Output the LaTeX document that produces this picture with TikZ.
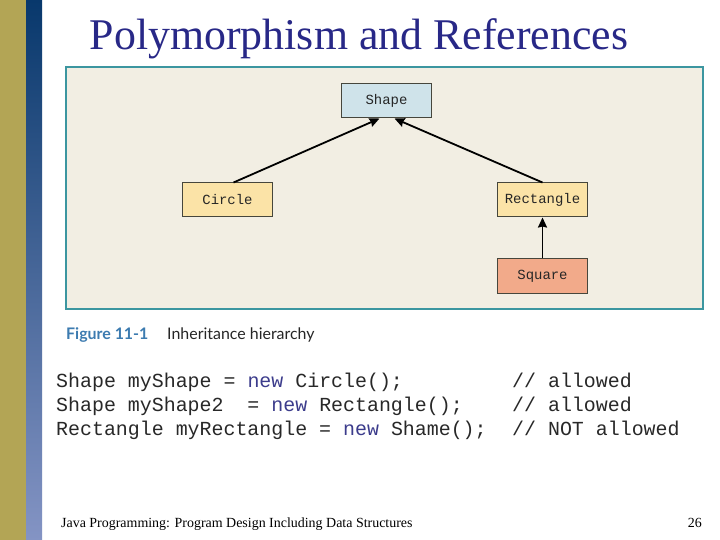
\documentclass[tikz,border=0pt]{standalone}
\usepackage{fontspec}
\setmainfont{Liberation Serif}
\newfontfamily\codefont{Liberation Mono}
\newfontfamily\capfont{Lato}
\usetikzlibrary{arrows.meta}
\definecolor{gold}{RGB}{179,165,85}
\definecolor{navytop}{RGB}{8,56,108}
\definecolor{navybot}{RGB}{132,148,196}
\definecolor{titleblue}{RGB}{40,40,135}
\definecolor{panelfill}{RGB}{242,238,227}
\definecolor{panelline}{RGB}{60,150,160}
\definecolor{shapefill}{RGB}{207,227,234}
\definecolor{classfill}{RGB}{251,227,167}
\definecolor{squarefill}{RGB}{242,170,138}
\definecolor{boxline}{RGB}{70,70,60}
\definecolor{capblue}{RGB}{60,123,176}
\definecolor{kwcolor}{RGB}{60,60,140}
\definecolor{codegray}{RGB}{40,40,40}
\tikzset{
  classbox/.style={draw=boxline, line width=1bp, minimum width=90bp, minimum height=34bp,
    inner sep=0pt, font=\codefont\fontsize{14}{15}\selectfont, text=black!85},
  inherit/.style={line width=1.8bp, draw=black, -{Stealth[length=10bp,width=9bp,inset=1bp]}},
  codeline/.style={anchor=base west, inner sep=0pt, font=\codefont\fontsize{20}{24}\selectfont, text=codegray},
}
\begin{document}
\begin{tikzpicture}[x=1bp,y=-1bp]
\useasboundingbox (0,0) rectangle (720,540);
\fill[white] (0,0) rectangle (720,540);
% side bars
\fill[gold] (0,0) rectangle (26,540);
\shade[top color=navytop, bottom color=navybot] (26,0) rectangle (42,540);
% title
\node[font=\fontsize{44}{44}\selectfont, text=titleblue, inner sep=0pt] (title) at (359,39) {Polymorphism and References};
% figure panel
\draw[fill=panelfill, draw=panelline, line width=2bp] (66,67) rectangle (703,309);
\node[classbox, fill=shapefill] (shape) at (386.5,101) {Shape};
\node[classbox, fill=classfill] (circle) at (227.5,200) {Circle};
\node[classbox, fill=classfill] (rect) at (542.5,200) {Rectangle};
\node[classbox, fill=squarefill] (square) at (542.5,276) {Square};
\draw[inherit] ([xshift=6bp]circle.north) -- ([xshift=-7bp]shape.south);
\draw[inherit] (rect.north) -- ([xshift=8bp]shape.south);
\draw[inherit] (square.north) -- (rect.south);
% caption
\node[anchor=base west, inner sep=0pt, font=\capfont\bfseries\fontsize{16}{18}\selectfont, text=capblue] (fig) at (66,339) {Figure 11-1};
\node[anchor=base west, inner sep=0pt, font=\capfont\fontsize{16}{18}\selectfont, text=black!85] (figcap) at (167,339) {Inheritance hierarchy};
% code
\node[codeline] (c1) at (56,387) {Shape myShape = \textcolor{kwcolor}{new} Circle();};
\node[codeline] (c2) at (56,411) {Shape myShape2~~= \textcolor{kwcolor}{new} Rectangle();};
\node[codeline] (c3) at (56,435) {Rectangle myRectangle = \textcolor{kwcolor}{new} Shame();};
\node[codeline] (k1) at (512,387) {// allowed};
\node[codeline] (k2) at (512,411) {// allowed};
\node[codeline] (k3) at (512,435) {// NOT allowed};
% footer
\node[anchor=base west, inner sep=0pt, font=\fontsize{14}{16}\selectfont] (foot) at (61,527) {Java Programming: Program Design Including Data Structures};
\node[anchor=base east, inner sep=0pt, font=\fontsize{14}{16}\selectfont] (page) at (702,527) {26};
\end{tikzpicture}
\end{document}
